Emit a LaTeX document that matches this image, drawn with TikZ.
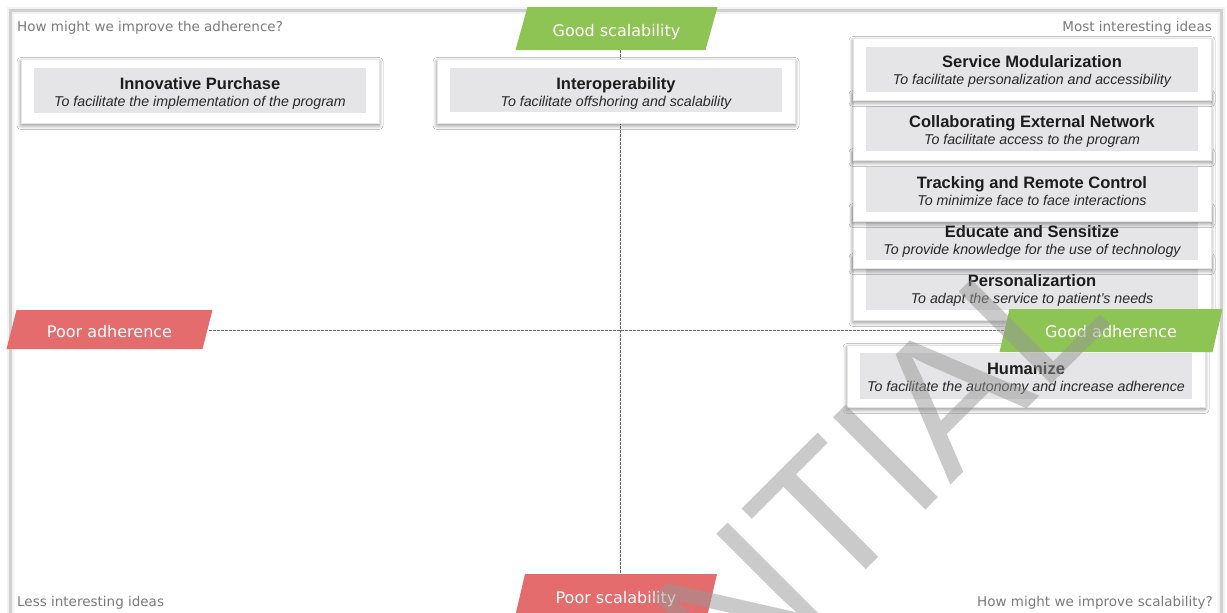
\documentclass[tikz,border=0pt]{standalone}
\usepackage{fontspec}
\setmainfont{Liberation Sans}
\newfontfamily\labelfont{DejaVu Sans}
\usetikzlibrary{shadows.blur}

\definecolor{goodgreen}{RGB}{141,196,84}
\definecolor{poorred}{RGB}{228,108,108}
\definecolor{cardgrey}{RGB}{229,229,231}
\definecolor{notegrey}{RGB}{122,122,122}
\definecolor{titleink}{RGB}{28,28,28}
\definecolor{subink}{RGB}{40,40,40}
\definecolor{framegrey}{RGB}{208,208,208}

\tikzset{
  cardbox/.style={fill=white, draw=black!10, line width=0.5pt, inner sep=0pt, minimum width=358pt,
    blur shadow={shadow xshift=0pt, shadow yshift=-2.5pt, shadow blur radius=4pt,
                 shadow blur steps=8, shadow opacity=45}},
  cardfill/.style={fill=cardgrey, inner sep=0pt, minimum width=332pt},
  cardtitle/.style={anchor=base, inner sep=0pt, text=titleink, font=\fontsize{16.5}{19}\selectfont\bfseries},
  cardsub/.style={anchor=base, inner sep=0pt, text=subink, font=\fontsize{14.2}{17}\selectfont\itshape},
  tag/.style={anchor=base, inner sep=0pt, text=white, font=\labelfont\fontsize{16}{19}\selectfont},
  note/.style={inner sep=0pt, text=notegrey, font=\labelfont\fontsize{13.5}{16}\selectfont},
  axisline/.style={draw=black!60, line width=0.7pt, dash pattern=on 2.5pt off 1.5pt},
  stamp/.style={rotate=45, anchor=base east, inner sep=0pt, text=black!41, opacity=0.5,
    font=\fontsize{190}{190}\selectfont},
}

% idea card: name, centre x, outer top, outer bottom, inner top, inner bottom,
% title baseline, title, subtitle
\newcommand\ideacard[9]{%
  \node[cardbox, minimum height={#4pt-#3pt}] (#1) at ({#2},{(#3+#4)/2}) {};
  \node[cardfill, minimum height={#6pt-#5pt}] (#1-in) at ({#2},{(#5+#6)/2}) {};
  \node[cardtitle] (#1-title) at ({#2},{#7}) {#8};
  \node[cardsub] (#1-sub) at ({#2},{#7+17}) {#9};
}

% slanted axis tag: name, centre x, top, bottom, width, skew, colour, text, baseline
\newcommand\axistag[9]{%
  \fill[#7] ({#2-#5/2+#6},{#3}) -- ({#2+#5/2+#6},{#3}) -- ({#2+#5/2-#6},{#4}) -- ({#2-#5/2-#6},{#4}) -- cycle;
  \node[tag] (#1) at ({#2},{#9}) {#8};
}

\begin{document}
\begin{tikzpicture}[x=1pt, y=-1pt]
  \useasboundingbox (0,0) rectangle (1227,613);
  \clip (0,0) rectangle (1227,613);
  \fill[white] (0,0) rectangle (1227,613);

  % frame
  \draw[black!5, line width=7pt] (10.5,10.5) rectangle (1221.5,660);
  \draw[framegrey, line width=3pt] (10.5,10.5) rectangle (1221.5,660);

  % corner notes
  \node[note, anchor=base west] (q1) at (17,31) {How might we improve the adherence?};
  \node[note, anchor=base east] (q2) at (1212,31) {Most interesting ideas};
  \node[note, anchor=base west] (q3) at (17,606) {Less interesting ideas};
  \node[note, anchor=base east] (q4) at (1213,606) {How might we improve scalability?};

  % axes
  \coordinate (origin) at (620,330);
  \coordinate (ytop) at (620,50);
  \coordinate (ybot) at (620,574);
  \coordinate (xleft) at (209,330);
  \coordinate (xright) at (1006,330);
  \draw[axisline] (ytop) -- (ybot);
  \draw[axisline] (xleft) -- (xright);

  % idea cards
  \ideacard{purchase}{200}{59}{123}{68}{113}{89}{Innovative Purchase}{To facilitate the implementation of the program}
  \ideacard{interop}{616}{59}{123}{68}{112}{89}{Interoperability}{To facilitate offshoring and scalability}

  \ideacard{personal}{1032}{255}{320}{258}{310}{286}{Personalizartion}{To adapt the service to patient's needs}
  \ideacard{educate}{1032}{205}{268}{212}{260}{237}{Educate and Sensitize}{To provide knowledge for the use of technology}
  \ideacard{tracking}{1032}{150}{221}{167}{212}{188}{Tracking and Remote Control}{To minimize face to face interactions}
  \ideacard{network}{1032}{92}{160}{106}{151}{127}{Collaborating External Network}{To facilitate access to the program}
  \ideacard{modular}{1032}{38}{100}{47}{92}{67}{Service Modularization}{To facilitate personalization and accessibility}

  \ideacard{humanize}{1026}{345}{407}{353}{399}{374}{Humanize}{To facilitate the autonomy and increase adherence}

  % axis tags
  \axistag{goodscal}{616.5}{7}{50}{190}{6}{goodgreen}{Good scalability}{36}
  \axistag{pooradh}{109.5}{310}{349}{196}{5}{poorred}{Poor adherence}{337}
  \axistag{goodadh}{1111}{309}{352}{213}{5}{goodgreen}{Good adherence}{337}
  \axistag{poorscal}{616}{574}{617}{192}{5}{poorred}{Poor scalability}{603}

  % stamp
  \node[stamp] (stampmark) at (1115,321) {CONFIDENTIAL};
\end{tikzpicture}
\end{document}
